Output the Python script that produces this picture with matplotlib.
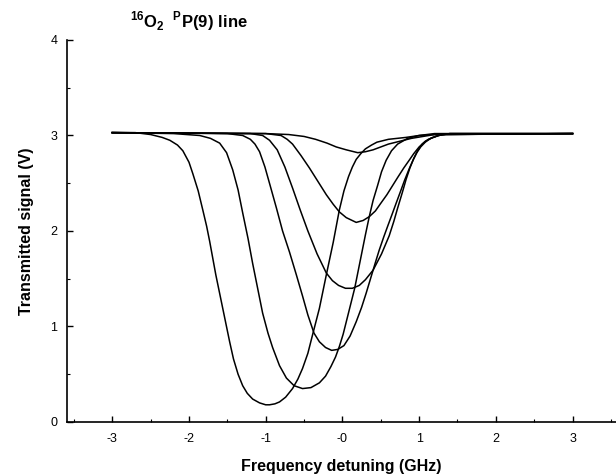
import matplotlib
matplotlib.use("Agg")
import matplotlib.pyplot as plt

plt.rcParams['font.family'] = ['Liberation Sans', 'DejaVu Sans']
plt.rcParams['mathtext.fontset'] = 'custom'
plt.rcParams['mathtext.rm'] = 'Liberation Sans'
plt.rcParams['mathtext.bf'] = 'Liberation Sans:bold'

# curves, shallowest to deepest (GHz, V)
x1 = [-3.0, -1.0, -0.7, -0.5, -0.35, -0.2, -0.08, 0.05, 0.2, 0.3, 0.4, 0.5, 0.6, 0.7, 0.8, 0.9, 1.05, 1.2, 3.0]
y1 = [3.03, 3.02, 3.01, 2.99, 2.96, 2.92, 2.88, 2.85, 2.82, 2.83, 2.85, 2.88, 2.91, 2.93, 2.95, 2.97, 2.99, 3.01, 3.02]

x2 = [-3.0, -1.0, -0.8, -0.72, -0.65, -0.54, -0.43, -0.32, -0.21, -0.12, -0.04, 0.05, 0.18, 0.27, 0.35,
      0.43, 0.5, 0.58, 0.65, 0.72, 0.80, 0.87, 0.93, 1.0, 1.08, 1.18, 1.3, 3.0]
y2 = [3.03, 3.02, 3.0, 2.96, 2.91, 2.79, 2.66, 2.52, 2.38, 2.28, 2.20, 2.14, 2.09, 2.11, 2.15,
      2.21, 2.29, 2.38, 2.47, 2.56, 2.66, 2.74, 2.81, 2.88, 2.94, 2.98, 3.01, 3.02]

x3 = [-3.0, -1.2, -1.04, -0.95, -0.85, -0.75, -0.65, -0.55, -0.45, -0.33, -0.21, -0.13, -0.05, 0.04, 0.13,
      0.22, 0.30, 0.40, 0.51, 0.61, 0.67, 0.72, 0.78, 0.83, 0.88, 0.93, 0.98, 1.04, 1.12, 1.25, 1.4, 3.0]
y3 = [3.03, 3.02, 3.0, 2.95, 2.85, 2.67, 2.45, 2.22, 2.0, 1.76, 1.56, 1.48, 1.43, 1.40, 1.40,
      1.43, 1.49, 1.59, 1.76, 1.95, 2.10, 2.24, 2.40, 2.54, 2.66, 2.76, 2.84, 2.91, 2.96, 3.0, 3.02, 3.02]

x4 = [-3.0, -1.5, -1.30, -1.2, -1.14, -1.08, -1.01, -0.94, -0.86, -0.78, -0.69, -0.60, -0.52, -0.45, -0.37,
      -0.30, -0.22, -0.14, -0.06, 0.02, 0.10, 0.18, 0.25, 0.31, 0.37, 0.43, 0.48, 0.54, 0.59, 0.65, 0.70,
      0.76, 0.81, 0.87, 0.92, 0.97, 1.02, 1.08, 1.15, 1.25, 1.4, 3.0]
y4 = [3.03, 3.02, 3.0, 2.96, 2.91, 2.83, 2.67, 2.47, 2.24, 2.00, 1.78, 1.54, 1.32, 1.12, 0.93,
      0.84, 0.78, 0.75, 0.76, 0.80, 0.90, 1.05, 1.20, 1.35, 1.51, 1.67, 1.80, 1.94, 2.05, 2.18, 2.29,
      2.42, 2.53, 2.65, 2.74, 2.82, 2.88, 2.93, 2.97, 3.0, 3.02, 3.02]

x5 = [-3.0, -2.2, -1.86, -1.72, -1.60, -1.51, -1.43, -1.36, -1.30, -1.23, -1.17, -1.10, -1.04, -0.97, -0.91,
      -0.82, -0.73, -0.63, -0.52, -0.41, -0.30, -0.22, -0.15, -0.09, -0.04, 0.01, 0.06, 0.11, 0.16, 0.21,
      0.26, 0.30, 0.35, 0.40, 0.46, 0.51, 0.57, 0.64, 0.72, 0.85, 1.0, 1.2, 3.0]
y5 = [3.03, 3.02, 3.0, 2.97, 2.92, 2.82, 2.64, 2.43, 2.19, 1.92, 1.66, 1.38, 1.14, 0.93, 0.78,
      0.59, 0.46, 0.38, 0.35, 0.36, 0.41, 0.48, 0.58, 0.68, 0.79, 0.92, 1.08, 1.24, 1.40, 1.60,
      1.80, 1.96, 2.15, 2.32, 2.48, 2.62, 2.74, 2.84, 2.91, 2.97, 3.0, 3.02, 3.02]

x6 = [-3.0, -2.7, -2.5, -2.35, -2.25, -2.15, -2.08, -2.0, -1.95, -1.88, -1.82, -1.77, -1.73, -1.65, -1.56,
      -1.47, -1.42, -1.36, -1.30, -1.24, -1.17, -1.08, -1.0, -0.95, -0.88, -0.82, -0.74, -0.65, -0.58, -0.52,
      -0.45, -0.39, -0.30, -0.21, -0.12, -0.04, 0.02, 0.08, 0.13, 0.18, 0.24, 0.30, 0.38, 0.45, 0.6, 0.83,
      1.0, 1.2, 3.0]
y6 = [3.03, 3.03, 3.01, 2.98, 2.95, 2.90, 2.84, 2.72, 2.60, 2.42, 2.22, 2.05, 1.89, 1.54, 1.19,
      0.84, 0.66, 0.50, 0.38, 0.30, 0.24, 0.20, 0.18, 0.18, 0.19, 0.21, 0.26, 0.35, 0.45, 0.56,
      0.72, 0.91, 1.19, 1.54, 1.88, 2.22, 2.42, 2.57, 2.67, 2.75, 2.81, 2.86, 2.90, 2.93, 2.96, 2.98,
      3.0, 3.01, 3.02]

curves = [(x1, y1), (x2, y2), (x3, y3), (x4, y4), (x5, y5), (x6, y6)]

xticks = [-3, -2, -1, 0, 1, 2, 3]
xticklabels = ['-3', '-2', '-1', '-0', '1', '2', '3']
yticks = [0, 1, 2, 3, 4]

fig = plt.figure(figsize=(6.16, 4.75), dpi=100)
ax = fig.add_axes([0.1088, 0.1116, 0.891, 0.8042])

for xs, ys in curves:
    ax.plot(xs, ys, color='black', lw=1.1, solid_joinstyle='round')

ax.set_xlim(-3.59, 3.565)
ax.set_ylim(0, 4)
ax.spines['top'].set_visible(False)
ax.spines['right'].set_visible(False)
ax.spines['left'].set_linewidth(1.2)
ax.spines['bottom'].set_linewidth(1.2)

ax.set_xticks(xticks)
ax.set_xticklabels(xticklabels)
ax.set_xticks([-3.5, -2.5, -1.5, -0.5, 0.5, 1.5, 2.5, 3.5], minor=True)
ax.set_yticks(yticks)
ax.set_yticks([0.5, 1.5, 2.5, 3.5], minor=True)
ax.tick_params(which='major', direction='in', length=4, width=1, labelsize=9)
ax.tick_params(axis='x', which='major', pad=8)
ax.tick_params(axis='y', which='major', pad=7)
ax.tick_params(which='minor', direction='in', length=2.5, width=0.8)

ax.set_xlabel('Frequency detuning (GHz)', fontsize=11.5, fontweight='bold', labelpad=10)
ax.set_ylabel('Transmitted signal (V)', fontsize=11.5, fontweight='bold', labelpad=12)

fig.text(130 / 616, 1 - 21 / 475,
         r'$^{\mathbf{16}}\mathbf{O}_{\mathbf{2}}\;\;^{\mathbf{P}}\mathbf{P(9)\ line}$',
         fontsize=12, ha='left', va='center')

fig.savefig('out.png', dpi=100)
